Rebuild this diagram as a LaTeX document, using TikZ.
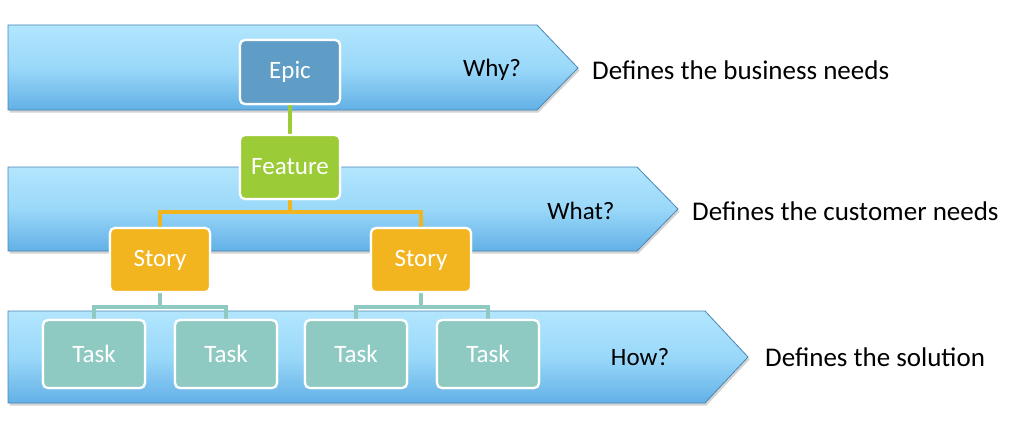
\documentclass[tikz,border=0pt]{standalone}
\usepackage{fontspec}
\setmainfont{Carlito}
\usetikzlibrary{shadows}
\definecolor{arrtop}{HTML}{B2E6FD}
\definecolor{arrmid}{HTML}{9AD8F9}
\definecolor{arrbot}{HTML}{62B0E6}
\definecolor{arredge}{HTML}{4A86B3}
\definecolor{epicc}{HTML}{5F9DC6}
\definecolor{featc}{HTML}{9BCB36}
\definecolor{storyc}{HTML}{F2B51F}
\definecolor{taskc}{HTML}{8FCAC2}
\tikzset{
  band/.style={draw=arredge, line width=0.8pt, top color=arrtop, bottom color=arrbot, middle color=arrmid,
    drop shadow={opacity=0.35, shadow xshift=1.5pt, shadow yshift=-2.5pt}},
  box/.style={draw=white, line width=2.2pt, rounded corners=5pt, text=white, font=\fontsize{25}{28}\selectfont,
    minimum width=100pt, minimum height=64pt, inner sep=0pt},
  taskbox/.style={box, fill=taskc, minimum width=102pt, minimum height=68pt},
  qlabel/.style={font=\fontsize{25}{28}\selectfont, text=black},
  dlabel/.style={font=\fontsize{27}{30}\selectfont, text=black, anchor=west, inner sep=0pt},
  link/.style={line width=3.2pt},
}
\begin{document}
\begin{tikzpicture}[x=1pt,y=-1pt]
\useasboundingbox (0,0) rectangle (1024,428);
% bands
\draw[band] (8,25) -- (537,25) -- (578,68) -- (537,110) -- (8,110) -- cycle;
\draw[band] (8,167) -- (637,167) -- (678,209) -- (637,251) -- (8,251) -- cycle;
\draw[band] (8,311) -- (705,311) -- (748,357) -- (705,403) -- (8,403) -- cycle;
% labels
\node[qlabel] (why) at (492,70) {Why?};
\node[qlabel] (what) at (581,211) {What?};
\node[qlabel] (how) at (640,357) {How?};
\node[dlabel] (d1) at (592,70) {Defines the business needs};
\node[dlabel] (d2) at (692,211) {Defines the customer needs};
\node[dlabel] (d3) at (765,357) {Defines the solution};
% boxes (positions)
\node[box, fill=epicc] (epic) at (290,72) {Epic};
\node[box, fill=featc] (feat) at (290,167) {Feature};
\node[box, fill=storyc] (s1) at (160,260) {Story};
\node[box, fill=storyc] (s2) at (421,260) {Story};
\node[taskbox] (t1) at (94,354) {Task};
\node[taskbox] (t2) at (226,354) {Task};
\node[taskbox] (t3) at (356,354) {Task};
\node[taskbox] (t4) at (488,354) {Task};
% connectors
\coordinate (fj) at (290,212);
\coordinate (sj1) at (160,307);
\coordinate (sj2) at (421,307);
\draw[link, featc] (epic.south) -- (feat.north);
\draw[link, storyc] (feat.south) -- (fj);
\draw[link, storyc] (s1.north) |- (fj) -| (s2.north);
\draw[link, taskc] (s1.south) -- (sj1);
\draw[link, taskc] (t1.north) |- (sj1) -| (t2.north);
\draw[link, taskc] (s2.south) -- (sj2);
\draw[link, taskc] (t3.north) |- (sj2) -| (t4.north);
% redraw boxes on top of connectors
\node[box, fill=epicc] at (epic) {Epic};
\node[box, fill=featc] at (feat) {Feature};
\node[box, fill=storyc] at (s1) {Story};
\node[box, fill=storyc] at (s2) {Story};
\node[taskbox] at (t1) {Task};
\node[taskbox] at (t2) {Task};
\node[taskbox] at (t3) {Task};
\node[taskbox] at (t4) {Task};
\end{tikzpicture}
\end{document}
